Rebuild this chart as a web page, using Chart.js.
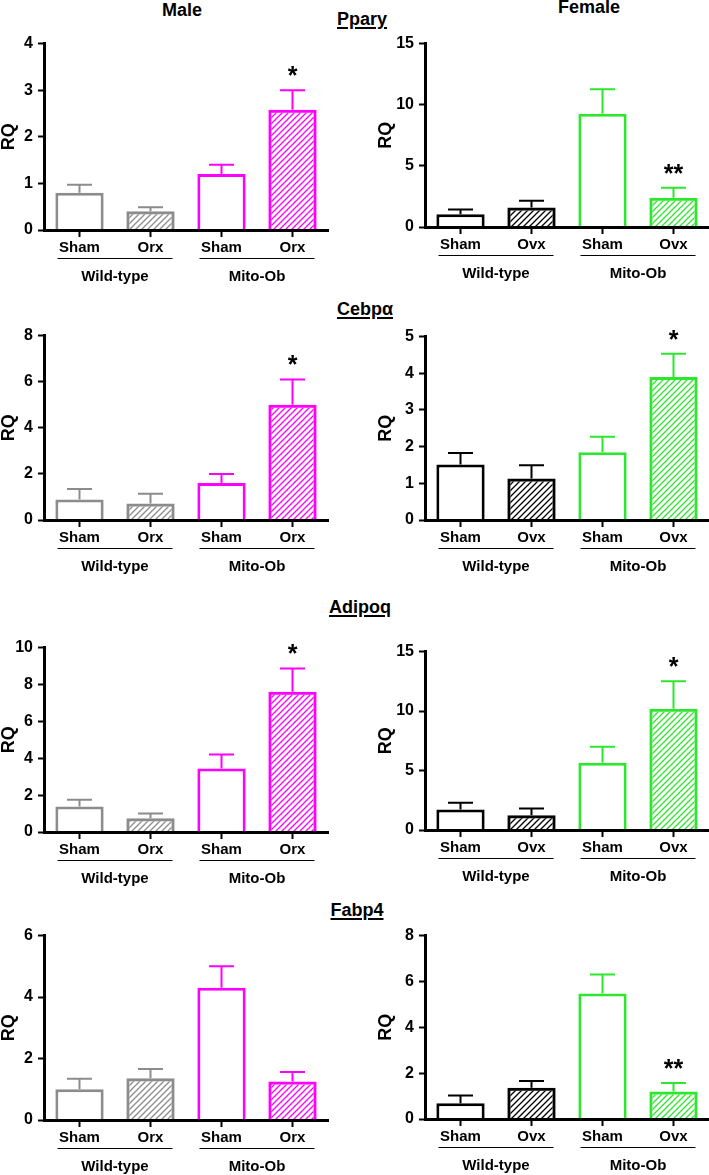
<!DOCTYPE html>
<html lang="en">
<head>
<meta charset="UTF-8">
<title>RQ - Male / Female</title>
<script src="https://cdn.jsdelivr.net/npm/chart.js"></script>
<style>
  body { margin: 0; background: #fff; font-family: "Liberation Sans", Arial, sans-serif; }
  #page { position: relative; width: 709px; height: 1175px; overflow: hidden; }
  .panel { position: absolute; }
  .title {
    position: absolute; font-weight: bold; font-size: 18px; line-height: 18px;
    transform: translateX(-50%); white-space: nowrap; color: #000;
  }
  .gene { text-decoration: underline; text-decoration-thickness: 2px; text-underline-offset: 2px; }
</style>
</head>
<body>
<div id="page">
  <div class="title" style="left:182px; top:1px;">Male</div>
  <div class="title" style="left:589px; top:-2px;">Female</div>
  <div class="title gene" style="left:362px; top:10px;">Ppary</div>
  <div class="title gene" style="left:365px; top:300px;">Cebpα</div>
  <div class="title gene" style="left:360px; top:598px;">Adipoq</div>
  <div class="title gene" style="left:357px; top:901px;">Fabp4</div>
</div>
<script>
// categories
const maleLabels = ['Sham', 'Orx', 'Sham', 'Orx'];
const femaleLabels = ['Sham', 'Ovx', 'Sham', 'Ovx'];
const groupLabels = ['Wild-type', 'Mito-Ob'];

// RQ mean and SEM, order: WT Sham, WT Orx/Ovx, Mito-Ob Sham, Mito-Ob Orx/Ovx
const pparMale = [0.80, 0.40, 1.20, 2.58];
const pparMaleSem = [0.17, 0.09, 0.20, 0.42];
const pparMaleSig = ['', '', '', '*'];
const pparFemale = [1.04, 1.60, 9.27, 2.40];
const pparFemaleSem = [0.40, 0.55, 1.99, 0.80];
const pparFemaleSig = ['', '', '', '**'];

const cebpaMale = [0.89, 0.72, 1.61, 5.00];
const cebpaMaleSem = [0.46, 0.42, 0.39, 1.10];
const cebpaMaleSig = ['', '', '', '*'];
const cebpaFemale = [1.51, 1.13, 1.85, 3.90];
const cebpaFemaleSem = [0.32, 0.36, 0.42, 0.63];
const cebpaFemaleSig = ['', '', '', '*'];

const adipoqMale = [1.38, 0.74, 3.44, 7.60];
const adipoqMaleSem = [0.37, 0.26, 0.76, 1.27];
const adipoqMaleSig = ['', '', '', '*'];
const adipoqFemale = [1.72, 1.25, 5.66, 10.2];
const adipoqFemaleSem = [0.58, 0.55, 1.34, 2.30];
const adipoqFemaleSig = ['', '', '', '*'];

const fabp4Male = [1.00, 1.36, 4.30, 1.25];
const fabp4MaleSem = [0.34, 0.30, 0.70, 0.31];
const fabp4MaleSig = ['', '', '', ''];
const fabp4Female = [0.69, 1.36, 5.47, 1.20];
const fabp4FemaleSem = [0.34, 0.30, 0.83, 0.37];
const fabp4FemaleSig = ['', '', '', '**'];

// y axis ranges (max, step)
const yMaxMale = [4, 8, 10, 6];
const yStepMale = [1, 2, 2, 2];
const yMaxFemale = [15, 5, 15, 8];
const yStepFemale = [5, 1, 5, 2];

const FONT = '"Liberation Sans", Arial, sans-serif';
const maleColors = ['#8c8c8c', '#8c8c8c', '#ff00ff', '#ff00ff'];
const femaleColors = ['#000000', '#000000', '#2ee62e', '#2ee62e'];

function hatch(color) {
  const s = 6;
  const c = document.createElement('canvas');
  c.width = c.height = s;
  const g = c.getContext('2d');
  g.strokeStyle = color;
  g.lineWidth = 1.3;
  g.beginPath();
  g.moveTo(0, s); g.lineTo(s, 0);
  g.moveTo(-1, 1); g.lineTo(1, -1);
  g.moveTo(s - 1, s + 1); g.lineTo(s + 1, s - 1);
  g.stroke();
  return g.createPattern(c, 'repeat');
}

// error bars, stars, group underline + labels
const panelExtras = {
  id: 'panelExtras',
  afterDatasetsDraw(chart, args, o) {
    const { ctx, scales: { y } } = chart;
    const vals = chart.data.datasets[0].data;
    ctx.save();
    chart.getDatasetMeta(0).data.forEach((bar, i) => {
      const yTop = y.getPixelForValue(vals[i]);
      const yErr = y.getPixelForValue(vals[i] + o.sem[i]);
      ctx.strokeStyle = o.colors[i];
      ctx.lineWidth = 2;
      ctx.beginPath();
      ctx.moveTo(bar.x, yTop);
      ctx.lineTo(bar.x, yErr);
      ctx.moveTo(bar.x - 12.5, yErr);
      ctx.lineTo(bar.x + 12.5, yErr);
      ctx.stroke();
      if (o.sig[i]) {
        ctx.fillStyle = '#000';
        ctx.font = 'bold 25px ' + FONT;
        ctx.textAlign = 'center';
        ctx.textBaseline = 'alphabetic';
        ctx.fillText(o.sig[i], bar.x, yErr - 6);
      }
    });
    ctx.restore();
  },
  afterDraw(chart, args, o) {
    const { ctx, chartArea, scales: { x } } = chart;
    const base = chartArea.bottom;
    ctx.save();
    ctx.strokeStyle = '#000';
    ctx.lineWidth = 1.2;
    ctx.fillStyle = '#000';
    ctx.font = 'bold 15px ' + FONT;
    ctx.textAlign = 'center';
    ctx.textBaseline = 'middle';
    groupLabels.forEach((g, k) => {
      const x0 = x.getPixelForValue(2 * k);
      const x1 = x.getPixelForValue(2 * k + 1);
      ctx.beginPath();
      ctx.moveTo(x0 - 22, Math.round(base) + 28.5);
      ctx.lineTo(x1 + 22, Math.round(base) + 28.5);
      ctx.stroke();
      ctx.fillText(g, (x0 + x1) / 2, base + 47);
    });
    ctx.restore();
  }
};

const panels = [
  { values: pparMale, sem: pparMaleSem, sig: pparMaleSig, female: false, row: 0, top: 39, bottom: 230 },
  { values: pparFemale, sem: pparFemaleSem, sig: pparFemaleSig, female: true, row: 0, top: 39, bottom: 227 },
  { values: cebpaMale, sem: cebpaMaleSem, sig: cebpaMaleSig, female: false, row: 1, top: 331, bottom: 520 },
  { values: cebpaFemale, sem: cebpaFemaleSem, sig: cebpaFemaleSig, female: true, row: 1, top: 332, bottom: 520 },
  { values: adipoqMale, sem: adipoqMaleSem, sig: adipoqMaleSig, female: false, row: 2, top: 643, bottom: 832 },
  { values: adipoqFemale, sem: adipoqFemaleSem, sig: adipoqFemaleSig, female: true, row: 2, top: 647, bottom: 830 },
  { values: fabp4Male, sem: fabp4MaleSem, sig: fabp4MaleSig, female: false, row: 3, top: 931, bottom: 1120 },
  { values: fabp4Female, sem: fabp4FemaleSem, sig: fabp4FemaleSig, female: true, row: 3, top: 931, bottom: 1119 }
];

const page = document.getElementById('page');
const padTop = 10, xH = 60;

panels.forEach(p => {
  const f = p.female;
  const cw = f ? 354 : 345;
  const ch = (p.bottom - p.top) + padTop + xH;
  const wrap = document.createElement('div');
  wrap.className = 'panel';
  wrap.style.left = (f ? 355 : 0) + 'px';
  wrap.style.top = (p.top - padTop) + 'px';
  const canvas = document.createElement('canvas');
  canvas.width = cw;
  canvas.height = ch;
  wrap.appendChild(canvas);
  page.appendChild(wrap);

  const colors = f ? femaleColors : maleColors;
  const fills = colors.map((c, i) => (i % 2 ? hatch(c) : '#ffffff'));

  new Chart(canvas, {
    type: 'bar',
    data: {
      labels: f ? femaleLabels : maleLabels,
      datasets: [{
        data: p.values,
        backgroundColor: fills,
        borderColor: colors,
        borderWidth: 3,
        barPercentage: 0.68,
        categoryPercentage: 1
      }]
    },
    options: {
      responsive: false,
      animation: false,
      devicePixelRatio: 1,
      layout: { padding: { top: padTop, bottom: 0, left: f ? 22 : 0, right: f ? 0 : 17 } },
      plugins: {
        legend: { display: false },
        tooltip: { enabled: false },
        panelExtras: { sem: p.sem, sig: p.sig, colors: colors }
      },
      scales: {
        x: {
          offset: true,
          grid: { offset: false, drawOnChartArea: false, tickLength: 7, tickWidth: 2, tickColor: '#000' },
          border: { color: '#000', width: 3, z: 1 },
          ticks: { color: '#000', font: { family: FONT, size: 15, weight: 'bold' }, padding: 2, maxRotation: 0, autoSkip: false },
          afterFit: s => { s.height = xH; }
        },
        y: {
          min: 0,
          max: (f ? yMaxFemale : yMaxMale)[p.row],
          ticks: { stepSize: (f ? yStepFemale : yStepMale)[p.row], color: '#000', font: { family: FONT, size: 16, weight: 'bold' }, padding: 5 },
          grid: { drawOnChartArea: false, tickLength: 6, tickWidth: 2, tickColor: '#000' },
          border: { color: '#000', width: 3, z: 1 },
          title: { display: true, text: 'RQ', color: '#000', padding: 0, font: { family: FONT, size: 18, weight: 'bold', lineHeight: 1 } },
          afterFit: s => { s.width = f ? 48 : 44; }
        }
      }
    },
    plugins: [panelExtras]
  });
});
</script>
</body>
</html>
